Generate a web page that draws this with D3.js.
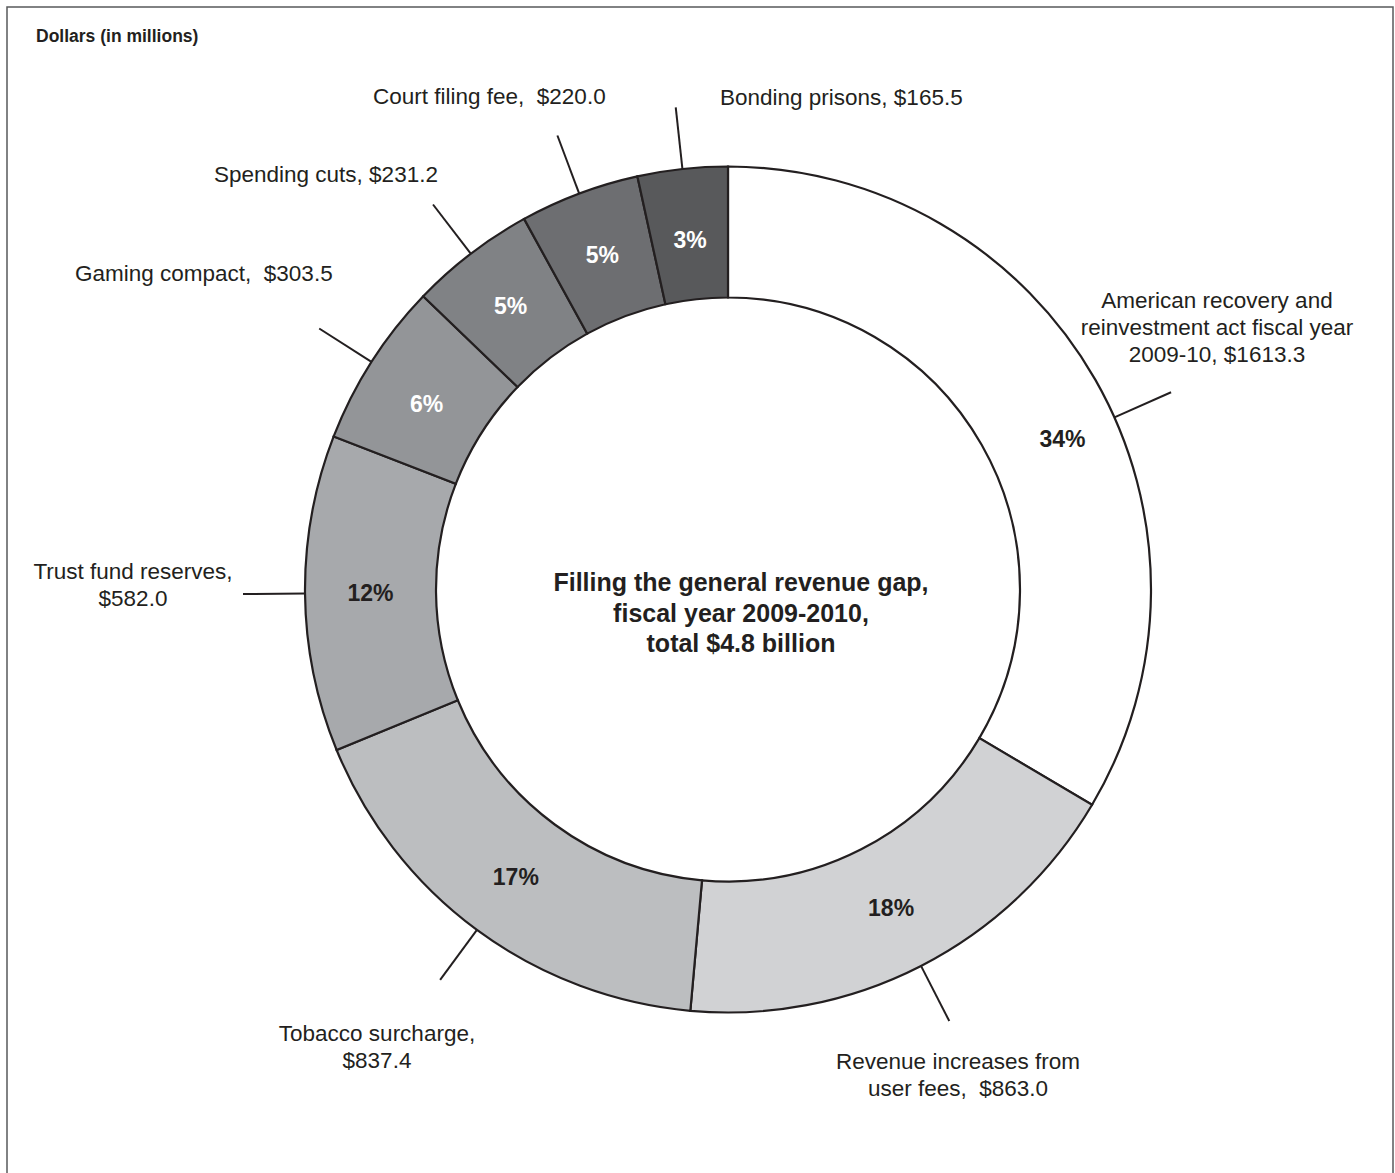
<!DOCTYPE html>
<html>
<head>
<meta charset="utf-8">
<script src="https://cdn.jsdelivr.net/npm/d3@7/dist/d3.min.js"></script>
<style>
  html, body { margin: 0; padding: 0; background: #fff; }
  svg { display: block; font-family: "Liberation Sans", Arial, Helvetica, sans-serif; }
</style>
</head>
<body>
<svg id="chart" width="1395" height="1173"></svg>
<script>
// Sources used to fill the general revenue gap (dollars in millions)
const categories = [
  "American recovery and reinvestment act fiscal year 2009-10",
  "Revenue increases from user fees",
  "Tobacco surcharge",
  "Trust fund reserves",
  "Gaming compact",
  "Spending cuts",
  "Court filing fee",
  "Bonding prisons"
];
const values = [1613.3, 863.0, 837.4, 582.0, 303.5, 231.2, 220.0, 165.5];
// Published shares (rounded so they add up to 100)
const shares = [34, 18, 17, 12, 6, 5, 5, 3];

// Outside label text, one entry per line
const labelLines = [
  ["American recovery and", "reinvestment act fiscal year", "2009-10, $1613.3"],
  ["Revenue increases from", "user fees,  $863.0"],
  ["Tobacco surcharge,", "$837.4"],
  ["Trust fund reserves,", "$582.0"],
  ["Gaming compact,  $303.5"],
  ["Spending cuts, $231.2"],
  ["Court filing fee,  $220.0"],
  ["Bonding prisons, $165.5"]
];
const centerTitle = ["Filling the general revenue gap,", "fiscal year 2009-2010,", "total $4.8 billion"];
const axisNote = "Dollars (in millions)";

// Styling
const fills = ["#ffffff", "#d1d2d4", "#bcbec0", "#a7a9ac", "#939598", "#808285", "#6d6e71", "#58595b"];
const pctColors = ["#231f20", "#231f20", "#231f20", "#231f20", "#ffffff", "#ffffff", "#ffffff", "#ffffff"];
const ink = "#231f20";

// Layout for the outside labels plus optional angle/radius overrides
// (degrees, clockwise from 12 o'clock)
const labelLayout = [
  { leaderAngle: 66, pctAngle: 65.7, pctR: 367, x: 1217, y: 308, anchor: "middle" },
  { x: 958,  y: 1069, anchor: "middle" },
  { x: 377,  y: 1041, anchor: "middle" },
  { x: 133,  y: 579,  anchor: "middle" },
  { pctAngle: 301.6, pctR: 354, x: 75, y: 281, anchor: "start" },
  { x: 214,  y: 182,  anchor: "start" },
  { x: 373,  y: 104,  anchor: "start" },
  { pctR: 352, x: 720, y: 105, anchor: "start" }
];

const cx = 728, cy = 589.5;
const outerR = 423, innerR = 292;
const leaderEnd = 485;
const lineH = 27;

const svg = d3.select("#chart");

// Frame
svg.append("rect")
  .attr("x", 7).attr("y", 7)
  .attr("width", 1386).attr("height", 1180)
  .attr("fill", "none")
  .attr("stroke", "#58595b")
  .attr("stroke-width", 1.5);

svg.append("text")
  .attr("x", 36).attr("y", 42)
  .attr("font-size", 17.5).attr("font-weight", "bold")
  .attr("fill", ink)
  .text(axisNote);

const data = categories.map((c, i) => ({ name: c, value: values[i], share: shares[i], i }));

const pie = d3.pie().value(d => d.value).sort(null).startAngle(0).endAngle(2 * Math.PI);
const arcs = pie(data);

const arc = d3.arc().innerRadius(innerR).outerRadius(outerR);

const g = svg.append("g").attr("transform", `translate(${cx},${cy})`);

g.selectAll("path.slice")
  .data(arcs)
  .join("path")
  .attr("class", "slice")
  .attr("d", arc)
  .attr("fill", d => fills[d.data.i])
  .attr("stroke", ink)
  .attr("stroke-width", 2.2)
  .attr("stroke-linejoin", "miter");

const toRad = deg => deg * Math.PI / 180;
const polar = (a, r) => [r * Math.sin(a), -r * Math.cos(a)];

// Percent labels inside the ring
const midR = (innerR + outerR) / 2;
g.selectAll("text.pct")
  .data(arcs)
  .join("text")
  .attr("class", "pct")
  .each(function (d) {
    const lay = labelLayout[d.data.i];
    const a = lay.pctAngle != null ? toRad(lay.pctAngle) : (d.startAngle + d.endAngle) / 2;
    const [x, y] = polar(a, lay.pctR != null ? lay.pctR : midR);
    d3.select(this).attr("x", x).attr("y", y);
  })
  .attr("dy", "0.36em")
  .attr("text-anchor", "middle")
  .attr("font-size", 23)
  .attr("font-weight", "bold")
  .attr("fill", d => pctColors[d.data.i])
  .text(d => d.data.share + "%");

// Leader lines
g.selectAll("line.leader")
  .data(arcs)
  .join("line")
  .attr("class", "leader")
  .each(function (d) {
    const lay = labelLayout[d.data.i];
    const a = lay.leaderAngle != null ? toRad(lay.leaderAngle) : (d.startAngle + d.endAngle) / 2;
    const [x1, y1] = polar(a, outerR);
    const [x2, y2] = polar(a, leaderEnd);
    d3.select(this).attr("x1", x1).attr("y1", y1).attr("x2", x2).attr("y2", y2);
  })
  .attr("stroke", ink)
  .attr("stroke-width", 2);

// Outside labels
svg.selectAll("text.label")
  .data(arcs)
  .join("text")
  .attr("class", "label")
  .attr("font-size", 22.5)
  .attr("fill", ink)
  .attr("text-anchor", d => labelLayout[d.data.i].anchor)
  .each(function (d) {
    const lay = labelLayout[d.data.i];
    d3.select(this).selectAll("tspan")
      .data(labelLines[d.data.i])
      .join("tspan")
      .attr("x", lay.x)
      .attr("y", (t, k) => lay.y + k * lineH)
      .style("white-space", "pre")
      .text(t => t);
  });

// Title in the centre of the ring
svg.append("text")
  .attr("text-anchor", "middle")
  .attr("font-size", 25)
  .attr("font-weight", "bold")
  .attr("fill", ink)
  .selectAll("tspan")
  .data(centerTitle)
  .join("tspan")
  .attr("x", 741)
  .attr("y", (t, k) => 591 + k * 30.5)
  .text(t => t);
</script>
</body>
</html>
